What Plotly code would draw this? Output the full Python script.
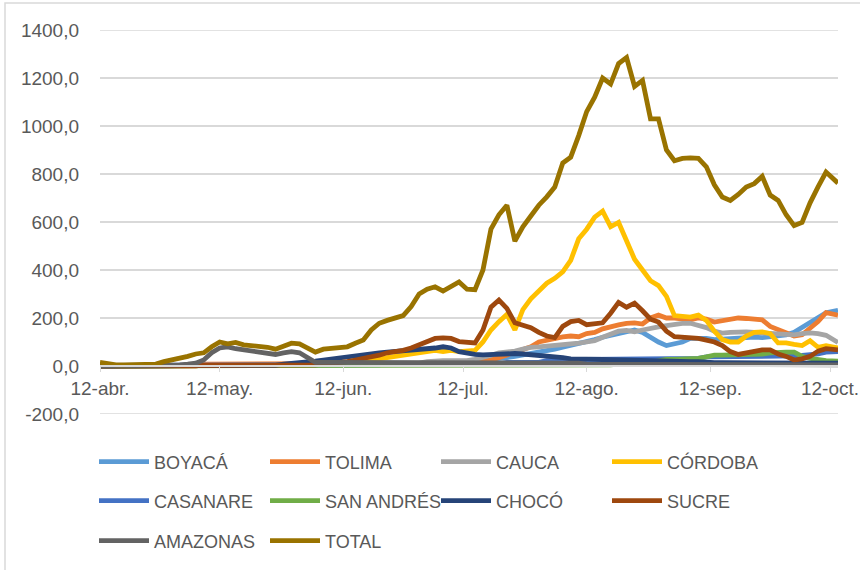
import datetime as dt
import plotly.graph_objects as go

# ---------------- data ----------------
start = dt.date(2020, 4, 12)
day_offsets = list(range(0, 184, 2)) + [185]
dates = [start + dt.timedelta(days=o) for o in day_offsets]

boyaca = ([0] * 15 + [5] * 21 + [10] * 9 +
          [15, 18, 20, 22, 25,
           30, 35, 40, 45, 50, 55, 62, 70, 78, 85,
           95, 100, 110, 120, 128, 135, 140, 150, 140, 118,
           100, 85, 92, 100, 115, 117, 115, 110, 112, 115,
           118, 120, 120, 118, 122, 125, 130, 140, 160, 180,
           205, 222, 232])

tolima = ([0] * 13 + [8] * 28 + [12] * 6 +
          [15, 18, 25,
           35, 45, 60, 70, 80, 100, 108, 115, 121, 125,
           122, 135, 140, 155, 165, 171, 178, 180, 175, 200,
           212, 200, 200, 195, 192, 200, 195, 183, 188, 195,
           200, 198, 195, 192, 165, 150, 137, 125, 130, 160,
           185, 222, 212])

cauca = ([0] * 15 + [5] * 16 + [12] * 10 +
         [18, 22, 22, 22, 22, 22, 28, 35, 45,
          55, 58, 62, 70, 78, 80, 82, 85, 88, 92,
          95, 100, 105, 120, 135, 145, 148, 142, 150, 158,
          163, 168, 175, 178, 178, 170, 160, 145, 137, 140,
          142, 142, 140, 138, 135, 130, 129, 130, 135, 138,
          135, 128, 98])

cordoba = ([0] * 12 + [3] * 15 + [8] * 5 +
           [15, 20, 25, 25, 35, 40, 45, 45,
            50, 60, 65, 60, 65, 60, 62, 65, 100, 150,
            185, 215, 150, 235, 280, 315, 345, 365, 392, 440,
            530, 570, 620, 645, 580, 598, 520, 445, 400, 355,
            335, 290, 210, 205, 204, 212, 190, 145, 110, 100,
            100, 125, 140, 142, 135, 96, 96, 90, 85, 105,
            78, 85, 75])

casanare = ([3] * 41 + [8] * 10 + [15] * 5 + [22] * 5 + [28] * 6 +
            [32] * 9 + [38] * 10 + [42, 42, 44, 45, 50, 58, 60])

san_andres = ([0] * 31 + [2] * 26 + [5] * 8 + [8] * 4 +
              [15, 22, 28, 28, 28, 28, 32, 38, 45, 45, 45, 45, 45, 45,
               50, 55, 58, 58, 58, 40, 32, 25, 22, 20])

choco = ([0] * 19 + [3] * 4 +
         [8, 10, 12, 15, 20, 25, 30,
          33, 38, 42, 46, 50, 55, 58, 60, 65, 67,
          70, 72, 75, 80, 75, 60, 52, 48, 46, 48,
          52, 54, 52, 50, 48, 45, 42, 38, 35, 30,
          28, 28, 28, 27, 26, 25] +
         [22] * 5 + [18] * 5 + [14] * 5 + [12] * 12)

sucre = ([0] * 6 + [3] * 21 +
         [5, 8, 10,
          12, 18, 25, 30, 35, 45, 55, 58, 65, 75,
          88, 100, 115, 117, 115, 102, 100, 96, 150, 245,
          275, 240, 180, 170, 160, 140, 125, 118, 165, 185,
          190, 172, 175, 180, 220, 265, 245, 262, 230, 195,
          183, 145, 122, 120, 121, 115, 108, 100, 85, 60,
          48, 55, 65, 67, 67, 50, 40, 25, 30, 40,
          62, 72, 67])

amazonas = ([0] * 9 +
            [3, 5, 8, 12, 25, 55, 75, 80, 72, 68, 65,
             60, 54, 48, 55, 60, 55, 33, 15] +
            [15] * 13 + [12] * 20 + [8] * 10 + [5] * 22)

total = [15, 8, 5, 5, 5, 5, 6, 8, 18, 25,
         28, 40, 50, 55, 80, 100, 92, 98, 88, 85,
         80, 78, 70, 85, 95, 92, 75, 58, 70, 75,
         78, 80, 95, 108, 150, 178, 190, 198, 210, 248,
         300, 320, 330, 312, 330, 350, 320, 318, 400, 570,
         630, 670, 520, 580, 625, 670, 705, 746, 846, 870,
         960, 1060, 1120, 1200, 1175, 1260, 1285, 1165, 1190, 1030,
         1030, 900, 855, 865, 867, 865, 830, 755, 704, 690,
         715, 746, 760, 790, 712, 690, 630, 585, 598, 680,
         746, 808, 762]

series_names = ["BOYACÁ", "TOLIMA", "CAUCA", "CÓRDOBA", "CASANARE",
                "SAN ANDRÉS", "CHOCÓ", "SUCRE", "AMAZONAS", "TOTAL"]
series_values = [boyaca, tolima, cauca, cordoba, casanare,
                 san_andres, choco, sucre, amazonas, total]
series_colors = ["#5B9BD5", "#ED7D31", "#A5A5A5", "#FFC000", "#4472C4",
                 "#70AD47", "#264478", "#9E480E", "#636363", "#997300"]
legend_rows = ["legend", "legend", "legend", "legend",
               "legend2", "legend2", "legend2", "legend2",
               "legend3", "legend3"]

y_tick_vals = [-200, 0, 200, 400, 600, 800, 1000, 1200, 1400]
y_tick_text = ["-200,0", "0,0", "200,0", "400,0", "600,0", "800,0",
               "1000,0", "1200,0", "1400,0"]
x_tick_vals = ["2020-04-12", "2020-05-12", "2020-06-12", "2020-07-12",
               "2020-08-12", "2020-09-12", "2020-10-12"]
x_tick_text = ["12-abr.", "12-may.", "12-jun.", "12-jul.",
               "12-ago.", "12-sep.", "12-oct."]

# ---------------- figure ----------------
for v in series_values:
    assert len(v) == len(dates), len(v)

fig = go.Figure()
for name, vals, col, lg in zip(series_names, series_values, series_colors, legend_rows):
    fig.add_trace(go.Scatter(x=dates, y=vals, name=name, mode="lines",
                             line=dict(color=col, width=4.8),
                             legend=lg))

FONT = "Liberation Sans, Arial, sans-serif"
TXT = "#595959"
GRID = "#d9d9d9"

W, H = 860, 570
L, R, T, B = 100, 22, 30, 156
pw, ph = W - L - R, H - T - B


def px_x(x):
    return (x - L) / pw


def px_y(y):
    return (H - B - y) / ph


legend_common = dict(orientation="h", xanchor="left", yanchor="middle",
                     font=dict(family=FONT, size=18, color=TXT),
                     entrywidth=106, entrywidthmode="pixels",
                     itemwidth=50, bgcolor="rgba(0,0,0,0)",
                     itemclick=False, itemdoubleclick=False)

grid_shapes = [dict(type="line", xref="paper", yref="y", x0=0, x1=1, y0=v, y1=v,
                    line=dict(color=GRID, width=1.5), layer="below")
               for v in y_tick_vals if v != 0]

fig.update_layout(
    width=W, height=H,
    margin=dict(l=L, r=R, t=T, b=B, autoexpand=False),
    paper_bgcolor="white", plot_bgcolor="white",
    font=dict(family=FONT, size=19, color=TXT),
    showlegend=True,
    legend=dict(x=px_x(94), y=px_y(462), **legend_common),
    legend2=dict(x=px_x(94), y=px_y(501), **legend_common),
    legend3=dict(x=px_x(94), y=px_y(541), **legend_common),
    xaxis=dict(type="date", range=["2020-04-12", "2020-10-14"],
               anchor="free", position=200 / 1600,
               tickvals=x_tick_vals, ticktext=x_tick_text,
               showgrid=False, zeroline=False,
               showline=True, linecolor=GRID, linewidth=1.5,
               ticks="outside", ticklen=5, tickcolor=GRID,
               tickfont=dict(family=FONT, size=19, color=TXT)),
    yaxis=dict(range=[-200, 1400], tickvals=y_tick_vals, ticktext=y_tick_text,
               showgrid=True, gridcolor=GRID, gridwidth=1.5,
               zeroline=False, showline=False, ticks="",
               ticklabelstandoff=20,
               tickfont=dict(family=FONT, size=19, color=TXT)),
    shapes=grid_shapes + [dict(type="rect", xref="paper", yref="paper",
                               x0=px_x(5), x1=px_x(880), y0=px_y(590), y1=px_y(3),
                               line=dict(color=GRID, width=1.5),
                               fillcolor="rgba(0,0,0,0)", layer="below")],
)

fig.write_html("out.html",
               config={"displayModeBar": False},
               post_script="document.body.style.margin='0px';"
                           "document.body.style.overflow='hidden';")
